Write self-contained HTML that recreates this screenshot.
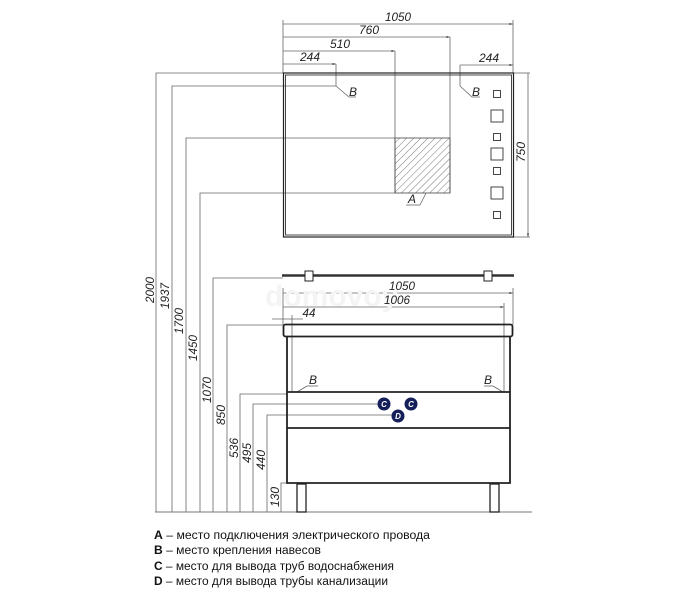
<!DOCTYPE html>
<html><head><meta charset="utf-8"><style>
html,body{margin:0;padding:0;background:#fff;width:684px;height:609px;overflow:hidden}
svg{display:block}
.d{font-family:"Liberation Sans",sans-serif;font-style:italic;font-size:12px;fill:#222}
.l{font-family:"Liberation Sans","DejaVu Sans",sans-serif;font-size:11.5px;fill:#111}
</style></head><body>
<svg width="684" height="609" viewBox="0 0 684 609" xmlns="http://www.w3.org/2000/svg">
<defs>
<pattern id="h" width="5" height="5" patternUnits="userSpaceOnUse" patternTransform="rotate(45)">
<line x1="0" y1="0" x2="0" y2="5" stroke="#555" stroke-width="0.8"/></pattern>
<marker id="a" viewBox="0 0 6 4" refX="6" refY="2" markerWidth="5" markerHeight="3" orient="auto"><path d="M0,0 L6,2 L0,4z" fill="#555"/></marker>
</defs>
<g stroke="#666" stroke-width="0.8" fill="none">
<line x1="283" y1="24" x2="513" y2="24" marker-end="url(#a)"/>
<line x1="283" y1="37" x2="450" y2="37" marker-end="url(#a)"/>
<line x1="283" y1="51" x2="395" y2="51" marker-end="url(#a)"/>
<line x1="283" y1="64" x2="336" y2="64" marker-end="url(#a)"/>
<line x1="460" y1="65" x2="513" y2="65" marker-end="url(#a)"/>
<line x1="283" y1="20" x2="283" y2="73"/>
<line x1="513" y1="20" x2="513" y2="73"/>
<line x1="450" y1="37" x2="450" y2="193"/>
<line x1="395" y1="51" x2="395" y2="193"/>
<polyline points="336,64 336,86 349,97 356,97"/>
<polyline points="460,65 460,86 472,97 480,97"/>
<line x1="406" y1="205" x2="420" y2="205"/>
<line x1="420" y1="205" x2="426" y2="193"/>
<line x1="514" y1="73" x2="530" y2="73"/>
<line x1="514" y1="237" x2="530" y2="237"/>
<line x1="528" y1="73" x2="528" y2="237" marker-end="url(#a)"/>
<polyline points="283,73 156,73 156,512"/>
<polyline points="336,86 172,86 172,512"/>
<polyline points="395,138 186,138 186,512"/>
<polyline points="395,193 200,193 200,512"/>
<polyline points="283,278 213,278 213,512"/>
<polyline points="283,325 227,325 227,512"/>
<polyline points="287,394 240,394 240,512"/>
<polyline points="384,404 253,404 253,512"/>
<polyline points="398,415 267,415 267,512"/>
<polyline points="287,483 281,483 281,512"/>
<line x1="155" y1="512" x2="532" y2="512" stroke="#777" stroke-width="1"/>
<line x1="283" y1="293" x2="513" y2="293" marker-end="url(#a)"/>
<line x1="283" y1="307" x2="504" y2="307" marker-end="url(#a)"/>
<line x1="283" y1="288" x2="283" y2="325"/>
<line x1="513" y1="288" x2="513" y2="325"/>
<line x1="504" y1="303" x2="504" y2="392"/>
<line x1="292" y1="315" x2="292" y2="392"/>
<line x1="272" y1="319" x2="303" y2="319"/>
<line x1="297" y1="392" x2="307" y2="386"/><line x1="307" y1="386" x2="318" y2="386"/>
<line x1="503" y1="392" x2="493" y2="386"/><line x1="493" y1="386" x2="484" y2="386"/>
</g>
<rect x="283.5" y="73" width="230" height="164" fill="none" stroke="#222" stroke-width="1.2"/>
<rect x="285.5" y="75" width="226" height="160" fill="none" stroke="#333" stroke-width="0.9"/>
<rect x="395" y="138" width="55" height="55" fill="url(#h)" stroke="#444" stroke-width="0.8"/>
<g fill="none" stroke="#333" stroke-width="0.9">
<rect x="493.5" y="90.5" width="7" height="7"/>
<rect x="491" y="110" width="12" height="12"/>
<rect x="493.5" y="133.5" width="7" height="7"/>
<rect x="491" y="148" width="12" height="12"/>
<rect x="493.5" y="167.5" width="7" height="7"/>
<rect x="491" y="187" width="12" height="12"/>
<rect x="493.5" y="211.5" width="7" height="7"/>
</g>
<line x1="282" y1="275.5" x2="514" y2="275.5" stroke="#333" stroke-width="2.5"/>
<rect x="305" y="271" width="8" height="10" fill="#fff" stroke="#222" stroke-width="1"/>
<rect x="484" y="271" width="8" height="10" fill="#fff" stroke="#222" stroke-width="1"/>
<text x="265" y="306" style="font-family:'Liberation Sans',sans-serif;font-weight:bold;font-size:30px;fill:#f4f4f4">domovoy</text>
<g fill="none" stroke="#222" stroke-width="1.8">
<rect x="283.5" y="324.5" width="229" height="12" rx="2"/>
<polyline points="287,337 287,483 510,483 510,337"/>
<line x1="287" y1="392" x2="510" y2="392"/>
<line x1="287" y1="428" x2="510" y2="428"/>
</g>
<g fill="#fff" stroke="#222" stroke-width="1.3">
<rect x="297" y="484" width="9" height="28"/>
<rect x="490" y="484" width="9" height="28"/>
</g>
<g fill="#15205a">
<circle cx="384" cy="404" r="6.5"/><circle cx="411" cy="404" r="6.5"/><circle cx="398" cy="416" r="6.5"/>
</g>
<g style="font-family:'Liberation Sans',sans-serif;font-style:italic;font-weight:bold;font-size:8px;fill:#fff" text-anchor="middle">
<text x="384" y="407">C</text><text x="411" y="407">C</text><text x="398" y="419">D</text>
</g>
<g class="d" text-anchor="middle">
<text x="398" y="21" textLength="26" lengthAdjust="spacingAndGlyphs">1050</text>
<text x="369" y="34" textLength="20" lengthAdjust="spacingAndGlyphs">760</text>
<text x="340" y="48" textLength="20" lengthAdjust="spacingAndGlyphs">510</text>
<text x="310" y="61" textLength="20" lengthAdjust="spacingAndGlyphs">244</text>
<text x="489" y="62" textLength="20" lengthAdjust="spacingAndGlyphs">244</text>
<text x="353" y="96">B</text><text x="476" y="96">B</text>
<text x="412" y="203">A</text>
<text x="402" y="290" textLength="26" lengthAdjust="spacingAndGlyphs">1050</text>
<text x="397" y="304" textLength="26" lengthAdjust="spacingAndGlyphs">1006</text>
<text x="309" y="317" textLength="13" lengthAdjust="spacingAndGlyphs">44</text>
<text x="313" y="384">B</text><text x="488" y="384">B</text>
<text transform="translate(525,152) rotate(-90)" textLength="20" lengthAdjust="spacingAndGlyphs">750</text>
<text transform="translate(154,290) rotate(-90)" textLength="26" lengthAdjust="spacingAndGlyphs">2000</text>
<text transform="translate(169,296) rotate(-90)" textLength="26" lengthAdjust="spacingAndGlyphs">1937</text>
<text transform="translate(183,321) rotate(-90)" textLength="26" lengthAdjust="spacingAndGlyphs">1700</text>
<text transform="translate(197,348) rotate(-90)" textLength="26" lengthAdjust="spacingAndGlyphs">1450</text>
<text transform="translate(211,390) rotate(-90)" textLength="26" lengthAdjust="spacingAndGlyphs">1070</text>
<text transform="translate(225,415) rotate(-90)" textLength="20" lengthAdjust="spacingAndGlyphs">850</text>
<text transform="translate(238,448) rotate(-90)" textLength="20" lengthAdjust="spacingAndGlyphs">536</text>
<text transform="translate(251,453) rotate(-90)" textLength="20" lengthAdjust="spacingAndGlyphs">495</text>
<text transform="translate(265,460) rotate(-90)" textLength="20" lengthAdjust="spacingAndGlyphs">440</text>
<text transform="translate(279,497) rotate(-90)" textLength="20" lengthAdjust="spacingAndGlyphs">130</text>
</g>
<g class="l">
<text x="154" y="539" textLength="276" lengthAdjust="spacingAndGlyphs"><tspan font-weight="bold">A</tspan> – место подключения электрического провода</text>
<text x="154" y="554" textLength="167" lengthAdjust="spacingAndGlyphs"><tspan font-weight="bold">B</tspan> – место крепления навесов</text>
<text x="154" y="570" textLength="240" lengthAdjust="spacingAndGlyphs"><tspan font-weight="bold">C</tspan> – место для вывода труб водоснабжения</text>
<text x="154" y="585" textLength="234" lengthAdjust="spacingAndGlyphs"><tspan font-weight="bold">D</tspan> – место для вывода трубы канализации</text>
</g>
</svg>
</body></html>
